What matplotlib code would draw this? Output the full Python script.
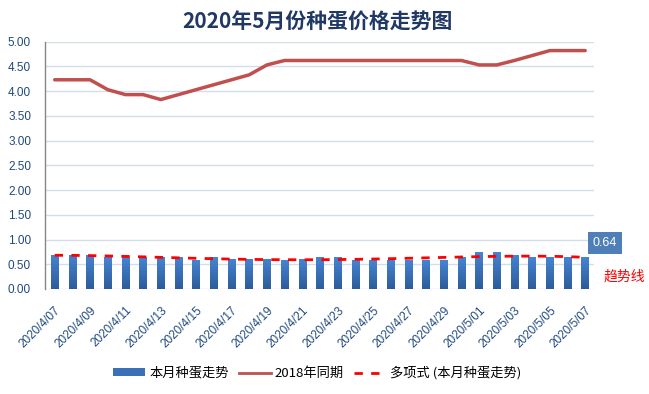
import numpy as np
import matplotlib
matplotlib.use("Agg")
import matplotlib.pyplot as plt
from matplotlib.lines import Line2D
from matplotlib.patches import Patch
from matplotlib.colors import LinearSegmentedColormap

plt.rcParams['font.family'] = ['Noto Sans CJK SC', 'DejaVu Sans']

# ---- data ----
dates = ["2020/4/07", "2020/4/08", "2020/4/09", "2020/4/10", "2020/4/11", "2020/4/12",
         "2020/4/13", "2020/4/14", "2020/4/15", "2020/4/16", "2020/4/17", "2020/4/18",
         "2020/4/19", "2020/4/20", "2020/4/21", "2020/4/22", "2020/4/23", "2020/4/24",
         "2020/4/25", "2020/4/26", "2020/4/27", "2020/4/28", "2020/4/29", "2020/4/30",
         "2020/5/01", "2020/5/02", "2020/5/03", "2020/5/04", "2020/5/05", "2020/5/06",
         "2020/5/07"]
this_month = [0.69, 0.69, 0.69, 0.64, 0.64, 0.64, 0.64, 0.64, 0.58, 0.64, 0.61, 0.61,
              0.61, 0.58, 0.61, 0.64, 0.64, 0.58, 0.58, 0.58, 0.58, 0.58, 0.58, 0.64,
              0.74, 0.74, 0.69, 0.64, 0.64, 0.64, 0.64]
same_period_2018 = [4.23, 4.23, 4.23, 4.03, 3.93, 3.93, 3.83, 3.93, 4.03, 4.13, 4.23, 4.33,
                    4.53, 4.62, 4.62, 4.62, 4.62, 4.62, 4.62, 4.62, 4.62, 4.62, 4.62, 4.62,
                    4.53, 4.53, 4.62, 4.72, 4.82, 4.82, 4.82]
yticks = [0.0, 0.5, 1.0, 1.5, 2.0, 2.5, 3.0, 3.5, 4.0, 4.5, 5.0]
title = "2020年5月份种蛋价格走势图"
series_names = ["本月种蛋走势", "2018年同期", "多项式 (本月种蛋走势)"]
last_label = "0.64"
trend_note = "趋势线"

# ---- figure ----
fig = plt.figure(figsize=(6.49, 3.94), dpi=100)
ax = fig.add_axes([0.0693, 0.2665, 0.846, 0.6277])

x = np.arange(len(dates))
bar_w = 0.42
bars = ax.bar(x, this_month, width=bar_w, color="#3A70B8", zorder=2)
cmap = LinearSegmentedColormap.from_list("g", ["#2D5C9B", "#4684D2"])
grad = np.linspace(0, 1, 64).reshape(-1, 1)
for b in bars:
    x0, y0 = b.get_x(), b.get_y()
    im = ax.imshow(grad, extent=[x0, x0 + b.get_width(), y0, y0 + b.get_height()],
                   origin="lower", cmap=cmap, aspect="auto", zorder=2.5)
    im.set_clip_path(b)

ax.plot(x, same_period_2018, color="#C0504D", lw=2.5, zorder=3, solid_capstyle="round")

coef = np.polyfit(x, this_month, 4)
trend = np.polyval(coef, x)
ax.plot(x, trend, color="#FF0000", lw=2.0, ls=(0, (3.0, 3.0)), zorder=4)

ax.set_xlim(-0.55, 30.5)
ax.set_ylim(0, 5.0)
ax.set_yticks(yticks)
ax.set_yticklabels([f"{v:.2f}" for v in yticks], color="#1F497D", fontsize=8.5,
                   family=["Liberation Sans", "DejaVu Sans"])
ax.set_xticks(x[::2])
ax.set_xticklabels(dates[::2], rotation=45, ha="right", rotation_mode="anchor",
                   color="#1F497D", fontsize=8.5, family=["Liberation Sans", "DejaVu Sans"])
ax.tick_params(axis="y", length=0, pad=10)
ax.tick_params(axis="x", length=0, pad=11)
ax.grid(axis="y", color="#D3DEEB", lw=1.0, zorder=0)
ax.set_axisbelow(True)
for s in ["top", "right", "bottom"]:
    ax.spines[s].set_visible(False)
ax.spines["left"].set_color("#868686")
ax.spines["left"].set_linewidth(1.0)

fig.text(0.489, 0.944, title, ha="center", va="center", fontsize=15, fontweight="bold",
         color="#1F3864")

ax.annotate(last_label, xy=(x[-1], this_month[-1]), xytext=(605, 394 - 243),
            textcoords="figure pixels",
            ha="center", va="center", fontsize=9, color="white",
            family=["Liberation Sans", "DejaVu Sans"],
            bbox=dict(boxstyle="square,pad=0.4", fc="#4F7FB8", ec="none"))
fig.text(624 / 649, 1 - 277 / 394, trend_note, ha="center", va="center", fontsize=10,
         color="#FF0000")

handles = [Patch(facecolor="#3A70B8", edgecolor="none"),
           Line2D([], [], color="#C0504D", lw=2),
           Line2D([], [], color="#FF0000", lw=2, ls=(0, (3.0, 3.0)))]
fig.legend(handles, series_names, loc="center", bbox_to_anchor=(0.489, 1 - 373 / 394),
           ncol=3, frameon=False, fontsize=9.5, handlelength=2.4, handleheight=0.5,
           columnspacing=0.8, handletextpad=0.3)

fig.savefig("out.png", dpi=100)
